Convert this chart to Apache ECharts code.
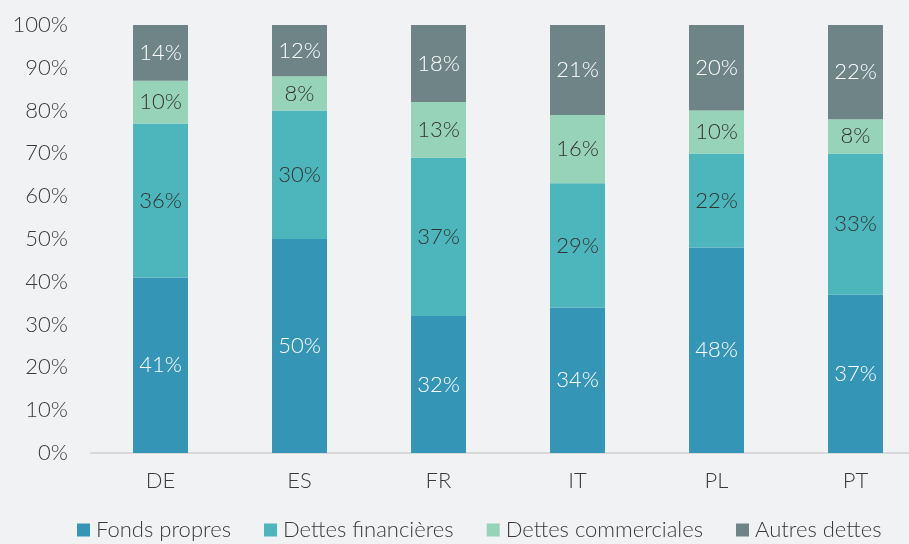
<!DOCTYPE html>
<html>
<head>
<meta charset="utf-8">
<script src="https://cdn.jsdelivr.net/npm/echarts@6/dist/echarts.min.js"></script>
<style>
  html, body { margin: 0; padding: 0; background: #f1f2f4; }
  #chart { width: 909px; height: 544px; }
</style>
</head>
<body>
<div id="chart"></div>
<script>
// Structure du passif par pays (en % du total)
const countries = ['DE', 'ES', 'FR', 'IT', 'PL', 'PT'];
const fondsPropres = [41, 50, 32, 34, 48, 37];
const dettesFinancieres = [36, 30, 37, 29, 22, 33];
const dettesCommerciales = [10, 8, 13, 16, 10, 8];
const autresDettes = [14, 12, 18, 21, 20, 22];
const yTicks = [0, 10, 20, 30, 40, 50, 60, 70, 80, 90, 100];

const FONT = 'Lato';
const TEXT = '#3a3a3a';
const SIZE = 22;

function seg(name, data, color, labelColor) {
  return {
    name: name,
    type: 'bar',
    stack: 'total',
    barWidth: 55,
    data: data,
    itemStyle: { color: color },
    label: {
      show: true,
      position: 'inside',
      formatter: '{c}%',
      color: labelColor,
      fontFamily: FONT,
      fontWeight: 300,
      fontSize: SIZE
    }
  };
}

const chart = echarts.init(document.getElementById('chart'));
chart.setOption({
  backgroundColor: '#f1f2f4',
  animation: false,
  textStyle: { fontFamily: FONT },
  grid: { left: 91, right: -16, top: 25, bottom: 91, outerBoundsMode: 'none' },
  legend: {
    top: 519,
    left: 77,
    padding: 0,
    itemWidth: 13,
    itemHeight: 13,
    itemGap: 33,
    icon: 'rect',
    textStyle: { fontFamily: FONT, fontWeight: 300, fontSize: SIZE, color: TEXT, padding: [0, 0, 0, 1] },
    data: ['Fonds propres', 'Dettes financières', 'Dettes commerciales', 'Autres dettes']
  },
  xAxis: {
    type: 'category',
    data: countries,
    axisLine: { lineStyle: { color: '#d9d9d9', width: 2 } },
    axisTick: { show: false },
    axisLabel: { color: TEXT, fontFamily: FONT, fontWeight: 300, fontSize: SIZE, margin: 17 }
  },
  yAxis: {
    type: 'value',
    min: yTicks[0],
    max: yTicks[yTicks.length - 1],
    interval: yTicks[1] - yTicks[0],
    splitLine: { show: false },
    axisLine: { show: false },
    axisTick: { show: false },
    axisLabel: { color: TEXT, fontFamily: FONT, fontWeight: 300, fontSize: SIZE, margin: 23, formatter: '{value}%' }
  },
  series: [
    seg('Fonds propres', fondsPropres, '#3595b7', '#ffffff'),
    seg('Dettes financières', dettesFinancieres, '#4db6bd', '#333333'),
    seg('Dettes commerciales', dettesCommerciales, '#97d3b9', '#333333'),
    seg('Autres dettes', autresDettes, '#6e8487', '#ffffff')
  ]
});
</script>
</body>
</html>
